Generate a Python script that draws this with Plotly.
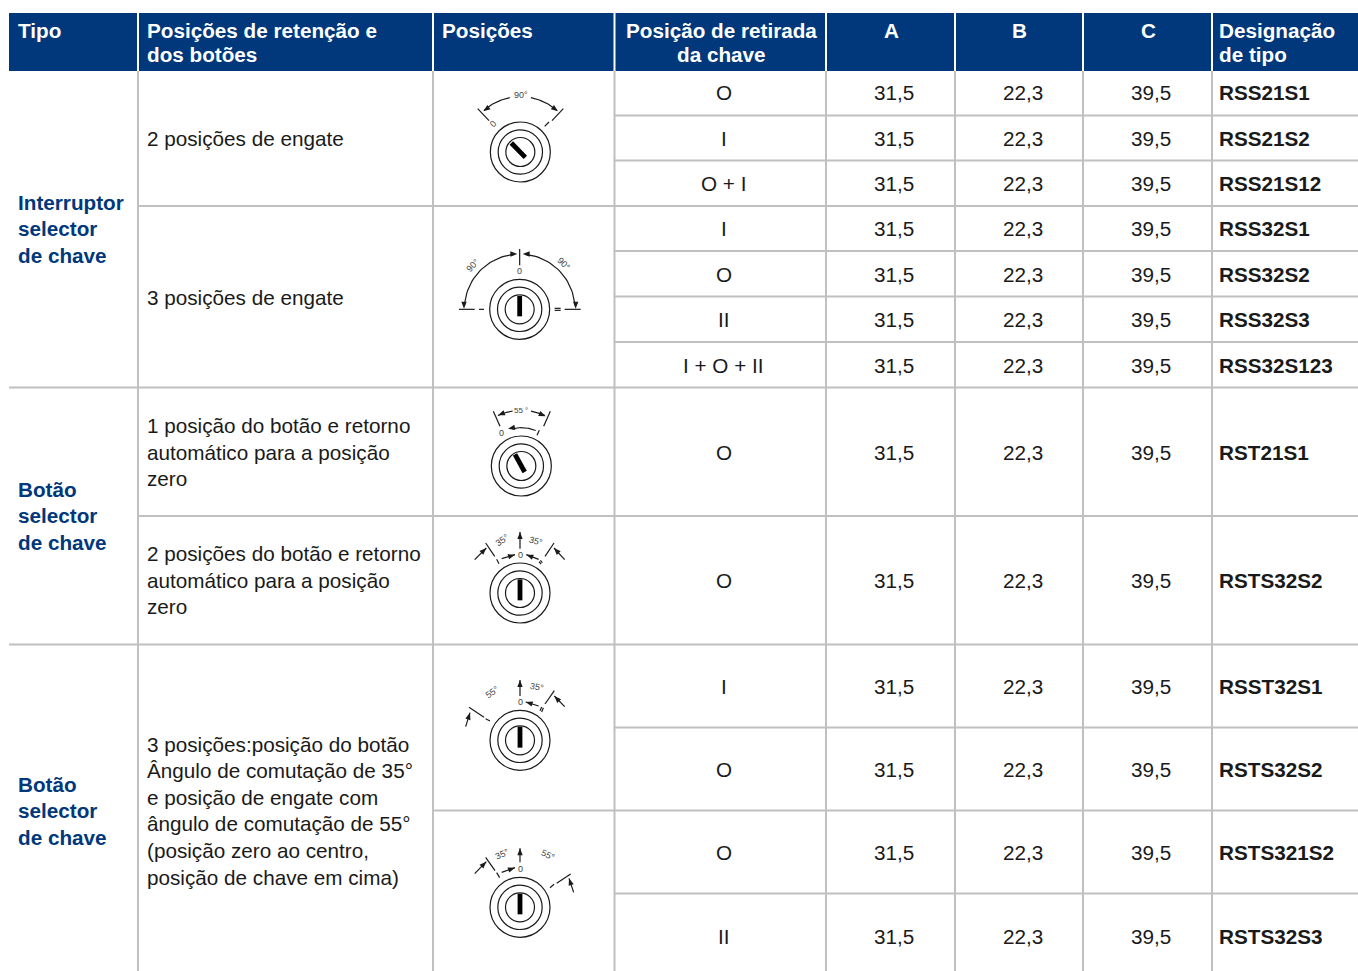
import math
import plotly.graph_objects as go

# ---------- table content ----------
header_left = [("Tipo",), ("Posições de retenção e", "dos botões"), ("Posições",)]
header_center = [("Posição de retirada", "da chave"), ("A",), ("B",), ("C",)]
header_last = ("Designação", "de tipo")
group_labels = [("Interruptor", "selector", "de chave"),
                ("Botão", "selector", "de chave"),
                ("Botão", "selector", "de chave")]
descriptions = [("2 posições de engate",),
                ("3 posições de engate",),
                ("1 posição do botão e retorno", "automático para a posição", "zero"),
                ("2 posições do botão e retorno", "automático para a posição", "zero"),
                ("3 posições:posição do botão", "Ângulo de comutação de 35°", "e posição de engate com",
                 "ângulo de comutação de 55°", "(posição zero ao centro,", "posição de chave em cima)")]
retirada = ["O", "I", "O + I", "I", "O", "II", "I + O + II", "O", "O", "I", "O", "O", "II"]
col_a = ["31,5"] * 13
col_b = ["22,3"] * 13
col_c = ["39,5"] * 13
designacao = ["RSS21S1", "RSS21S2", "RSS21S12", "RSS32S1", "RSS32S2", "RSS32S3", "RSS32S123",
              "RST21S1", "RSTS32S2", "RSST32S1", "RSTS32S2", "RSTS321S2", "RSTS32S3"]

# ---------- layout geometry (pixels of the 1358x971 page) ----------
NAVY = "#00387b"
GRID = "#c0c0c0"
INK = "#1a1a1a"
FONT = "Liberation Sans, Arial, sans-serif"
col_edges = [138, 433, 614.5, 826, 955, 1083, 1212]
row_centers = [92, 138, 183, 228, 274, 319, 365, 452, 580, 686, 769, 852, 936]
group_y = [202, 489, 784]
desc_y = [138, 297, 425.4, 553.4, 744]
hlines = [(614, 115.5), (614, 160.5), (138, 206), (614, 251), (614, 296.5), (614, 342), (9, 387.5),
          (138, 516), (9, 644.5), (614, 727.5), (433, 810.5), (614, 893.5)]

shapes, notes = [], []
xs, ys = [], []  # thin icon lines
bx, by = [], []  # key bars


def text(x, y, s, size=20.7, color=INK, bold=False, anchor="left", rot=0):
    notes.append(dict(x=x, y=y, xref="x", yref="y", text=f"<b>{s}</b>" if bold else s, showarrow=False,
                      xanchor=anchor, yanchor="middle", textangle=rot, borderpad=0,
                      font=dict(family=FONT, size=size, color=color)))


def stacked(x, y, lines, step, **kw):
    for i, ln in enumerate(lines):
        text(x, y + i * step, ln, **kw)


# header band and grid
shapes.append(dict(type="rect", x0=9, x1=1358, y0=13, y1=71, fillcolor=NAVY, line_width=0, layer="below"))
for e in col_edges:
    shapes.append(dict(type="line", x0=e, x1=e, y0=13, y1=71, line=dict(color="white", width=2)))
    shapes.append(dict(type="line", x0=e, x1=e, y0=71, y1=971, line=dict(color=GRID, width=2)))
for x0, y in hlines:
    shapes.append(dict(type="line", x0=x0, x1=1358, y0=y, y1=y, line=dict(color=GRID, width=2)))

# header text
for x, lines in zip((17, 146, 441), header_left):
    stacked(x, 30, lines, 24, size=20.7, color="white", bold=True)
for x, lines in zip((721, 891, 1019, 1148), header_center):
    stacked(x, 30, lines, 24, size=20.7, color="white", bold=True, anchor="center")
stacked(1218, 30, header_last, 24, size=20.7, color="white", bold=True)

# body text
for y, lines in zip(group_y, group_labels):
    stacked(17, y, lines, 26.6, size=20.7, color=NAVY, bold=True)
for y, lines in zip(desc_y, descriptions):
    stacked(146, y, lines, 26.6)
for y, r, a, b, c, d in zip(row_centers, retirada, col_a, col_b, col_c, designacao):
    text(723.5, y, r, anchor="center")
    text(894, y, a, anchor="center")
    text(1022.5, y, b, anchor="center")
    text(1151, y, c, anchor="center")
    text(1218, y, d, bold=True)


# ---------- icon helpers: coordinates are 3x zoomed pixels relative to an icon origin ----------
class Icon:
    def __init__(self, ox, oy, cx, cy):
        self.ox, self.oy, self.cx, self.cy = ox, oy, cx, cy
        X, Y = self.p(cx, cy)
        for r in (90, 66.5, 43.5):
            R = r / 3
            shapes.append(dict(type="circle", x0=X - R, x1=X + R, y0=Y - R, y1=Y + R,
                               line=dict(color=INK, width=1.2)))

    def p(self, x, y):
        return self.ox + x / 3, self.oy + y / 3

    def line(self, *pts):
        for x, y in pts:
            X, Y = self.p(x, y)
            xs.append(X)
            ys.append(Y)
        xs.append(None)
        ys.append(None)

    def bar(self, x0, y0, x1, y1):
        for x, y in ((x0, y0), (x1, y1)):
            X, Y = self.p(x, y)
            bx.append(X)
            by.append(Y)
        bx.append(None)
        by.append(None)

    def arc(self, r, a0, a1, n=30):
        pts = []
        for i in range(n + 1):
            a = math.radians(a0 + (a1 - a0) * i / n)
            pts.append((self.cx + r * math.cos(a), self.cy - r * math.sin(a)))
        self.line(*pts)

    def head(self, tx, ty, fx, fy, length=21, half=8):
        # filled arrow head with its tip at (tx,ty), pointing away from (fx,fy)
        d = math.hypot(tx - fx, ty - fy)
        ux, uy = (tx - fx) / d, (ty - fy) / d
        bx_, by_ = tx - ux * length, ty - uy * length
        a = self.p(tx, ty)
        b = self.p(bx_ - uy * half, by_ + ux * half)
        c = self.p(bx_ + uy * half, by_ - ux * half)
        path = f"M {a[0]} {a[1]} L {b[0]} {b[1]} L {c[0]} {c[1]} Z"
        shapes.append(dict(type="path", path=path, fillcolor=INK, line_width=0))

    def arrow(self, x0, y0, tx, ty, **kw):
        self.line((x0, y0), (tx, ty))
        self.head(tx, ty, x0, y0, **kw)

    def label(self, x, y, s, rot=0, size=9):
        X, Y = self.p(x, y)
        text(X, Y, s, size=size, color="#444444", anchor="center", rot=rot)


# icon 1: 90 degrees, two positions
ic = Icon(434, 72, 259, 240)
ic.bar(232, 213, 274, 256)
ic.line((131, 110), (165, 146))
ic.line((388, 110), (354, 146))
ic.line((332, 163), (345, 150))
ic.arc(166, 131, 101)
ic.arc(166, 49, 79)
ic.head(148, 118, 168, 103)
ic.head(372, 118, 352, 103)
ic.label(177, 157, "0", -45)
ic.label(261, 68, "90°")

# icon 2: 90 degrees, three positions
ic = Icon(434, 207, 257, 307)
ic.bar(257, 267, 257, 328)
ic.line((257, 126), (257, 175))
ic.line((75, 307), (122, 307))
ic.line((135, 307), (150, 307))
ic.line((392, 307), (440, 307))
ic.line((362, 304), (380, 304))
ic.line((362, 310), (380, 310))
ic.arc(166, 96, 176)
ic.arc(166, 84, 4)
ic.head(250, 141, 230, 141)
ic.head(266, 141, 286, 141)
ic.head(90, 305, 90, 285)
ic.head(425, 305, 425, 285)
ic.label(257, 191, "0")
ic.label(118, 175, "90°", -45)
ic.label(390, 170, "90°", 45)

# icon 3: 55 degrees, return
ic = Icon(434, 388, 262, 234)
ic.bar(243, 199, 272, 252)
ic.line((178, 70), (198, 115))
ic.line((349, 70), (329, 115))
ic.line((309, 142), (316, 127))
ic.arc(167, 115, 99)
ic.arc(167, 80, 65)
ic.head(192, 82, 212, 74)
ic.head(335, 85, 315, 76)
ic.arc(115, 68, 104)
ic.head(222, 122, 242, 118)
ic.label(202, 135, "0")
ic.label(262, 66, "55 °", size=8)

# icon 4: 35 / 35
ic = Icon(434, 517, 258, 228)
ic.bar(258, 187, 258, 250)
ic.arrow(258, 95, 258, 45)
ic.line((155, 78), (182, 118))
ic.line((188, 127), (195, 140))
ic.line((360, 78), (333, 118))
ic.line((319, 130), (325, 137))
ic.line((315, 134), (321, 141))
ic.arrow(122, 128, 157, 93)
ic.arrow(392, 128, 360, 93)
ic.arrow(203, 125, 243, 113)
ic.arrow(314, 127, 277, 113)
ic.label(258, 114, "0")
ic.label(205, 68, "35°", -35)
ic.label(305, 72, "35°", 15)

# icon 5: 55 / 35
ic = Icon(434, 660, 258, 241)
ic.bar(258, 200, 258, 263)
ic.arrow(258, 108, 258, 60)
ic.arrow(314, 138, 275, 126)
ic.line((361, 92), (333, 132))
ic.line((323, 141), (318, 152))
ic.line((328, 143), (323, 156))
ic.arrow(392, 140, 361, 108)
ic.line((105, 142), (150, 172))
ic.line((155, 176), (168, 183))
ic.arrow(95, 200, 108, 158)
ic.label(258, 126, "0")
ic.label(175, 95, "55°", -35)
ic.label(310, 80, "35°", 10)

# icon 6: 35 / 55
ic = Icon(434, 825, 258, 247)
ic.bar(258, 206, 258, 268)
ic.arrow(258, 112, 258, 70)
ic.arrow(203, 142, 243, 128)
ic.line((188, 143), (197, 158))
ic.line((155, 97), (183, 137))
ic.arrow(122, 146, 157, 110)
ic.line((410, 147), (368, 175))
ic.line((360, 178), (348, 188))
ic.arrow(419, 202, 405, 160)
ic.label(258, 132, "0")
ic.label(205, 86, "35°", -25)
ic.label(342, 90, "55°", 25)

fig = go.Figure()
fig.add_trace(go.Scatter(x=xs, y=ys, mode="lines", line=dict(color=INK, width=1.2),
                         hoverinfo="skip", showlegend=False))
fig.add_trace(go.Scatter(x=bx, y=by, mode="lines", line=dict(color="#000000", width=4.8),
                         hoverinfo="skip", showlegend=False))
fig.update_layout(width=1358, height=971, margin=dict(l=0, r=0, t=0, b=0, pad=0), autosize=False,
                  paper_bgcolor="white", plot_bgcolor="white", showlegend=False,
                  xaxis=dict(range=[0, 1358], visible=False, fixedrange=True),
                  yaxis=dict(range=[971, 0], visible=False, fixedrange=True),
                  shapes=shapes, annotations=notes)
fig.write_html("out.html", config=dict(displayModeBar=False),
               post_script="document.body.style.margin='0';document.body.style.overflow='hidden';")
